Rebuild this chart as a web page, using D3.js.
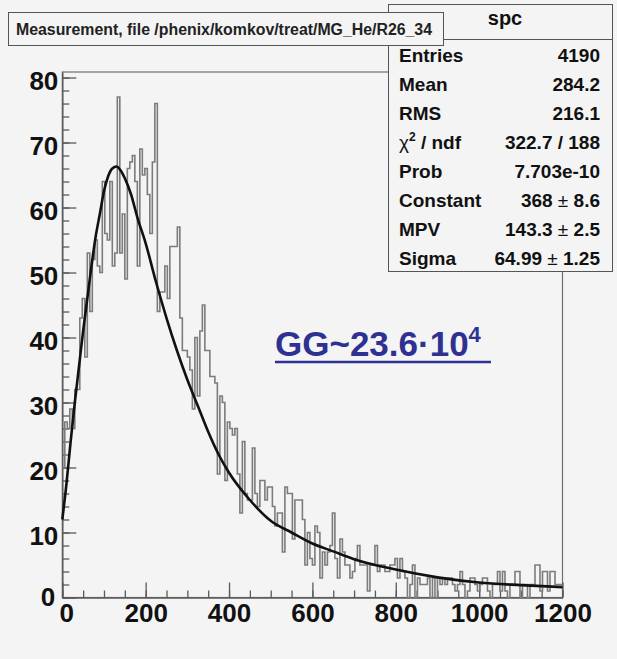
<!DOCTYPE html>
<html>
<head>
<meta charset="utf-8">
<script src="https://cdn.jsdelivr.net/npm/d3@7"></script>
<style>
  html, body { margin: 0; background: #f4f4f4; }
  svg { display: block; }
</style>
</head>
<body>
<svg width="617" height="659"></svg>
<script>
// histogram: 200 bins of width 6 from 0 to 1200
var binWidth = 6;
var counts = [
  20, 27, 26, 29, 26, 32, 32, 43, 46, 37, 53, 44, 52, 55, 51, 50, 64, 56, 55, 64,
  51, 53, 77, 53, 59, 49, 66, 67, 68, 64, 51, 69, 65, 66, 62, 56, 67, 76, 44, 47,
  47, 51, 46, 54, 54, 54, 57, 43, 38, 38, 37, 35, 29, 40, 31, 41, 45, 38, 38, 34,
  34, 33, 19, 31, 30, 18, 27, 26, 25, 26, 19, 13, 24, 16, 15, 15, 23, 16, 14, 18,
  18, 15, 17, 17, 14, 11, 13, 13, 7, 17, 16, 16, 9, 15, 15, 15, 12, 5, 10, 6,
  5, 11, 10, 3, 7, 5, 7, 8, 13, 6, 3, 9, 7, 5, 5, 3, 4, 6, 8, 5,
  5, 5, 1, 5, 5, 8, 4, 5, 5, 4, 4, 5, 5, 6, 3, 6, 4, 3, 0, 2,
  5, 0, 3, 2, 2, 2, 3, 0, 3, 0, 3, 2, 3, 2, 3, 3, 2, 1, 2, 4,
  2, 0, 1, 3, 3, 2, 1, 2, 3, 3, 1, 0, 2, 2, 4, 1, 4, 1, 0, 2,
  2, 4, 4, 0, 2, 2, 0, 2, 2, 5, 5, 1, 4, 4, 1, 4, 4, 2, 2, 2
];

// landau fit curve
var fitX = [0, 10, 20, 30, 40, 50, 60, 70, 80, 90, 100, 110, 120, 130, 140, 150, 165, 180, 200,
            225, 250, 275, 300, 325, 350, 375, 400, 450, 500, 550, 600, 650, 700, 800, 900, 1000, 1100, 1200];
var fitY = [12, 17.5, 24, 30, 35.5, 41, 46, 51, 55.5, 59, 62.5, 64.8, 66, 66.3, 65.7, 64.5, 62, 58.5, 54.5,
            48.5, 43, 38, 33.5, 29.5, 25.5, 22, 19.2, 15, 11.8, 10, 8.3, 7.1, 5.9, 4.3, 3.1, 2.3, 1.9, 1.6];

var xMajor = [0, 200, 400, 600, 800, 1000, 1200];
var yMajor = [0, 10, 20, 30, 40, 50, 60, 70, 80];
var yMax = 80.85;

var title = "Measurement, file /phenix/komkov/treat/MG_He/R26_34";
var statName = "spc";
var statLabels = ["Entries", "Mean", "RMS", "chi2/ndf", "Prob", "Constant", "MPV", "Sigma"];
var statValues = ["4190", "284.2", "216.1", "322.7 / 188", "7.703e-10", "368 \u00b1 8.6", "143.3 \u00b1 2.5", "64.99 \u00b1 1.25"];

var font = '"Liberation Sans", Arial, Helvetica, sans-serif';
var svg = d3.select("svg");

var x = d3.scaleLinear().domain([0, 1200]).range([62.3, 562.5]);
var y = d3.scaleLinear().domain([0, yMax]).range([597.5, 72]);

// frame
svg.append("rect")
   .attr("x", x(0)).attr("y", y(yMax))
   .attr("width", x(1200) - x(0)).attr("height", y(0) - y(yMax))
   .attr("fill", "#f4f4f4").attr("stroke", "#6e6e6e").attr("stroke-width", 1.2);

// minor ticks
svg.append("g").attr("transform", "translate(0," + y(0) + ")")
   .call(d3.axisBottom(x).tickValues(d3.range(0, 1201, 50)).tickSizeInner(-7).tickSizeOuter(0).tickFormat(""))
   .call(function (g) { g.select(".domain").remove(); });
svg.append("g").attr("transform", "translate(" + x(0) + ",0)")
   .call(d3.axisLeft(y).tickValues(d3.range(0, 81, 2)).tickSizeInner(-7).tickSizeOuter(0).tickFormat(""))
   .call(function (g) { g.select(".domain").remove(); });

// major ticks + labels
var xAxis = svg.append("g").attr("transform", "translate(0," + y(0) + ")")
   .call(d3.axisBottom(x).tickValues(xMajor).tickSizeInner(-15).tickSizeOuter(0).tickPadding(6).tickFormat(d3.format("d")));
var yAxis = svg.append("g").attr("transform", "translate(" + x(0) + ",0)")
   .call(d3.axisLeft(y).tickValues(yMajor).tickSizeInner(-14).tickSizeOuter(0).tickPadding(4));

svg.selectAll(".tick line").attr("stroke", "#5a5a5a").attr("stroke-width", 1.3);
svg.selectAll(".domain").attr("stroke", "#5a5a5a").attr("stroke-width", 1.5);
[xAxis, yAxis].forEach(function (g) {
  g.selectAll("text")
   .attr("font-family", font).attr("font-size", "26px").attr("font-weight", "bold")
   .attr("fill", "#111");
});
yAxis.selectAll("text").attr("dy", "0.45em");
yAxis.selectAll("text").filter(function (d) { return d === 0; }).attr("dx", -3).attr("dy", "0.3em");
xAxis.selectAll("text").filter(function (d) { return d === 0; }).attr("dx", 4);

// histogram outline
var histPts = counts.map(function (c, i) { return [i * binWidth, c]; });
histPts.push([1200, counts[counts.length - 1]]);
svg.append("path")
   .datum(histPts)
   .attr("d", d3.line().x(function (d) { return x(d[0]); }).y(function (d) { return y(d[1]); }).curve(d3.curveStepAfter))
   .attr("fill", "none").attr("stroke", "#7c7c7c").attr("stroke-width", 1.6);

// fit
svg.append("path")
   .datum(d3.zip(fitX, fitY))
   .attr("d", d3.line().x(function (d) { return x(d[0]); }).y(function (d) { return y(d[1]); }).curve(d3.curveMonotoneX))
   .attr("fill", "none").attr("stroke", "#111").attr("stroke-width", 2.6);

// annotation
var gg = svg.append("text")
   .attr("x", 275).attr("y", 356)
   .attr("font-family", font).attr("font-size", "35px").attr("font-weight", "bold")
   .attr("fill", "#2e3192");
gg.append("tspan").text("GG~23.6\u00b710");
gg.append("tspan").attr("font-size", "22px").attr("dy", -14).text("4");
svg.append("line")
   .attr("x1", 275).attr("x2", 491).attr("y1", 362).attr("y2", 362)
   .attr("stroke", "#2e3192").attr("stroke-width", 2.6);

// stats box
svg.append("rect")
   .attr("x", 388.5).attr("y", 4.5).attr("width", 224).attr("height", 35)
   .attr("fill", "#f4f4f4").attr("stroke", "#555");
svg.append("text")
   .attr("x", 505).attr("y", 25).attr("text-anchor", "middle")
   .attr("font-family", font).attr("font-size", "20px").attr("font-weight", "bold")
   .attr("fill", "#111").text(statName);
svg.append("rect")
   .attr("x", 388.5).attr("y", 39.5).attr("width", 224).attr("height", 232)
   .attr("fill", "#f4f4f4").attr("stroke", "#555");

var rowY = d3.scaleLinear().domain([0, statLabels.length - 1]).range([55, 258]);
statLabels.forEach(function (lab, i) {
  var t = svg.append("text")
     .attr("x", 399).attr("y", rowY(i) + 7)
     .attr("font-family", font).attr("font-size", "19px").attr("font-weight", "bold")
     .attr("fill", "#111");
  if (lab === "chi2/ndf") {
    t.append("tspan").attr("font-weight", "normal").text("\u03c7");
    t.append("tspan").attr("font-size", "12px").attr("dy", -8).text("2");
    t.append("tspan").attr("dy", 8).text(" / ndf");
  } else {
    t.text(lab);
  }
  var v = svg.append("text")
     .attr("x", 600).attr("y", rowY(i) + 7).attr("text-anchor", "end")
     .attr("font-family", font).attr("font-size", "19px").attr("font-weight", "bold")
     .attr("fill", "#111");
  var parts = statValues[i].split(" \u00b1 ");
  v.append("tspan").text(parts[0]);
  if (parts.length > 1) {
    v.append("tspan").attr("font-weight", "normal").text(" \u00b1 ");
    v.append("tspan").text(parts[1]);
  }
});

// title box
svg.append("rect")
   .attr("x", 8.5).attr("y", 12.5).attr("width", 435).attr("height", 33)
   .attr("fill", "#f4f4f4").attr("stroke", "#555");
svg.append("text")
   .attr("x", 16).attr("y", 35)
   .attr("font-family", font).attr("font-size", "16px").attr("font-weight", "bold")
   .attr("textLength", 416).attr("lengthAdjust", "spacingAndGlyphs")
   .attr("fill", "#222").text(title);
</script>
</body>
</html>
